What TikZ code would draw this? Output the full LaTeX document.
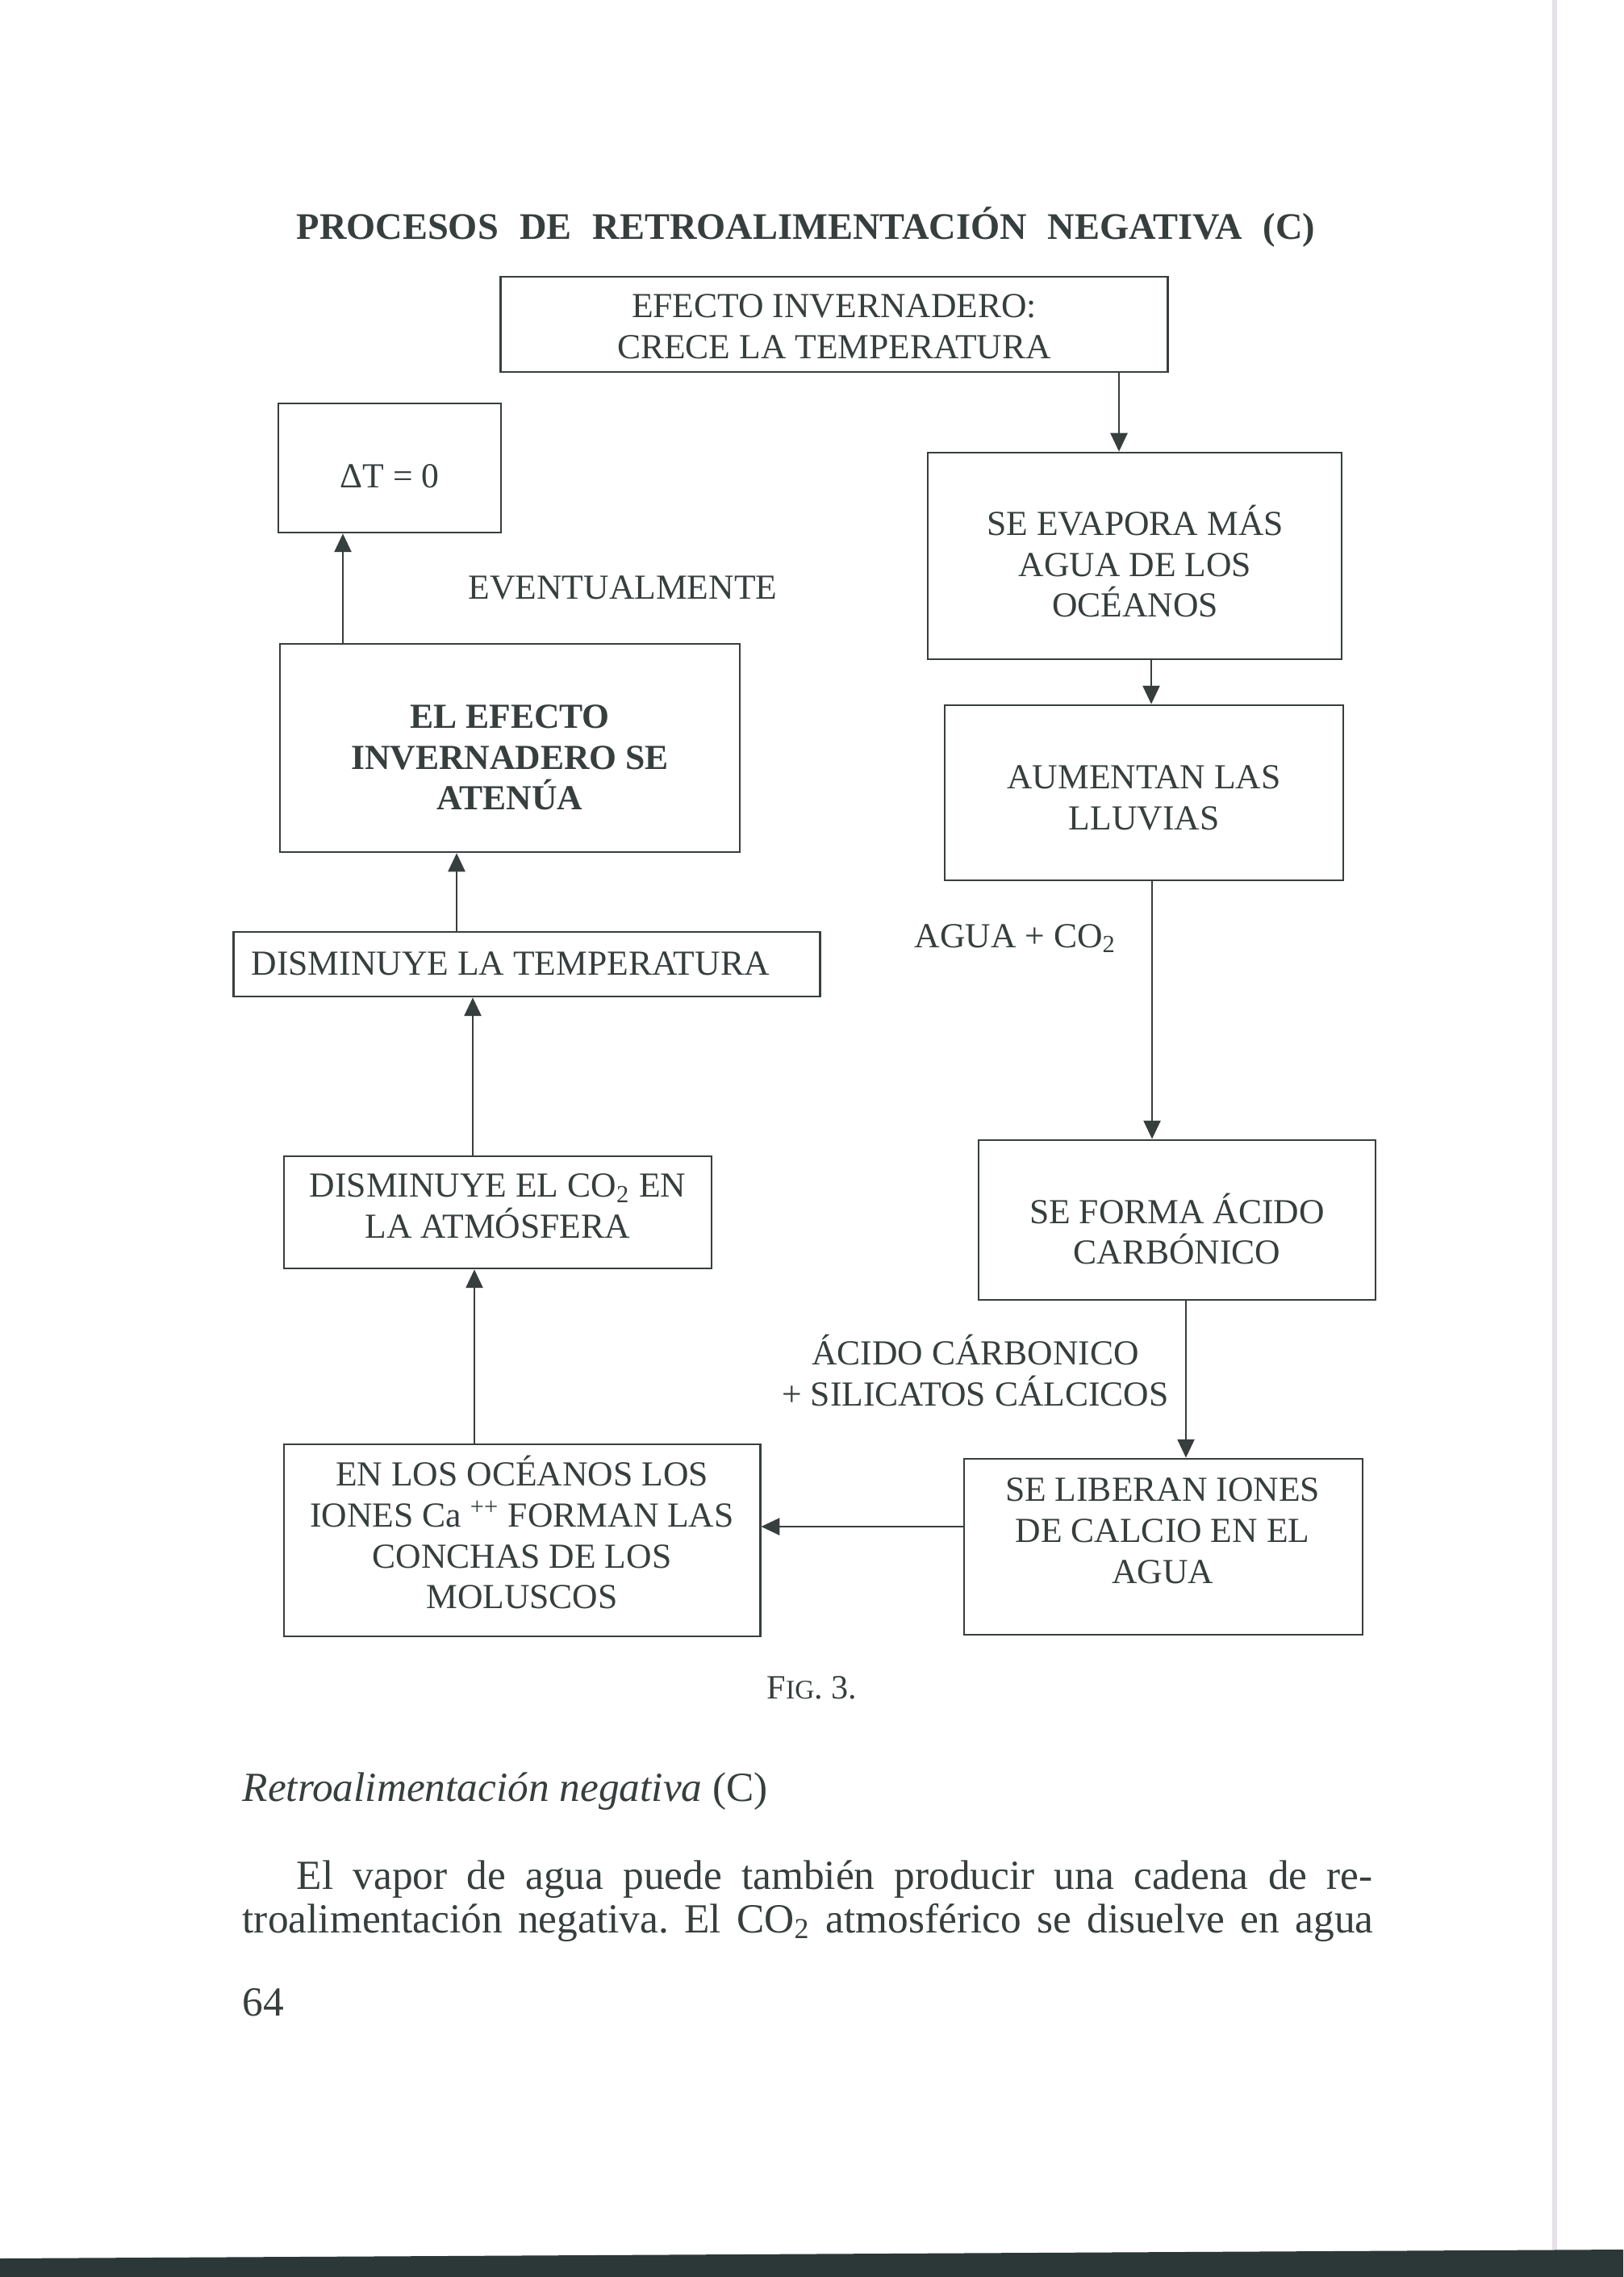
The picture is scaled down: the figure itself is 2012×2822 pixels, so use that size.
\documentclass[tikz,border=0pt]{standalone}
\usepackage{fontspec}
\setmainfont{Liberation Serif}
\usetikzlibrary{arrows.meta}
\definecolor{ink}{RGB}{55,62,62}
\definecolor{band}{RGB}{44,56,56}
\definecolor{pageedge}{RGB}{232,224,230}
\newcommand\fl{\rule{0pt}{12pt}}
\frenchspacing
\begin{document}
\begin{tikzpicture}[x=0.01cm,y=-0.01cm,
  box/.style={draw=ink, line width=0.75pt, inner sep=0pt, rectangle},
  btxt/.style={anchor=north, inner sep=0pt, align=center, text=ink, font=\fontsize{12.4}{14.4}\selectfont},
  ltxt/.style={anchor=base west, inner sep=0pt, text=ink, font=\fontsize{12.4}{14.4}\selectfont},
  arr/.style={draw=ink, line width=0.65pt, -{Triangle[length=6.5pt,width=6pt]}},
  body/.style={anchor=base west, inner sep=0pt, text=ink, font=\fontsize{14.6}{16}\selectfont}]
\fill[white] (0,0) rectangle (2012,2822);
\useasboundingbox (0,0) rectangle (2012,2822);
% page edge and bottom band
\draw[pageedge, line width=1.7pt] (1927,0) -- (1927,2790);
\fill[band] (0,2799) -- (2012,2788) -- (2012,2822) -- (0,2822) -- cycle;

% title
\node[anchor=base west, inner sep=0pt, text=ink, font=\fontsize{13.2}{15}\selectfont\bfseries] (title) at (367,297)
  {\makebox[12.62cm][s]{PROCESOS DE RETROALIMENTACIÓN NEGATIVA (C)}};

% boxes
\node[box, minimum width=8.26cm, minimum height=1.18cm] (A) at (1034,402) {};
\node[box, minimum width=5.13cm, minimum height=2.56cm] (B) at (1406.5,689) {};
\node[box, minimum width=4.94cm, minimum height=2.17cm] (C) at (1418,982.5) {};
\node[box, minimum width=4.92cm, minimum height=1.98cm] (D) at (1459,1512) {};
\node[box, minimum width=4.94cm, minimum height=2.18cm] (E) at (1442,1917) {};
\node[box, minimum width=5.90cm, minimum height=2.38cm] (F) at (647,1909) {};
\node[box, minimum width=5.30cm, minimum height=1.39cm] (G) at (617,1502.5) {};
\node[box, minimum width=7.26cm, minimum height=0.80cm] (H) at (653,1195) {};
\node[box, minimum width=5.70cm, minimum height=2.58cm] (I) at (632,927) {};
\node[box, minimum width=2.76cm, minimum height=1.60cm] (J) at (483,580) {};

% box texts
\node[btxt] (At) at (1034,350.8) {\fl EFECTO INVERNADERO:\\CRECE LA TEMPERATURA};
\node[btxt] (Bt) at (1407,620.8) {\fl SE EVAPORA MÁS\\AGUA DE LOS\\OCÉANOS};
\node[btxt] (Ct) at (1418,934.8) {\fl AUMENTAN LAS\\LLUVIAS};
\node[btxt] (Dt) at (1459,1473.3) {\fl SE FORMA ÁCIDO\\CARBÓNICO};
\node[btxt] (Et) at (1441,1817.8) {\fl SE LIBERAN IONES\\DE CALCIO EN EL\\AGUA};
\node[btxt] (Ft) at (647,1798.8) {\fl EN LOS OCÉANOS LOS\\IONES Ca \textsuperscript{++} FORMAN LAS\\CONCHAS DE LOS\\MOLUSCOS};
\node[btxt] (Gt) at (617,1440.8) {\fl DISMINUYE EL CO\textsubscript{2} EN\\LA ATMÓSFERA};
\node[ltxt] (Ht) at (311,1208) {DISMINUYE LA TEMPERATURA};
\node[btxt, font=\fontsize{12.4}{14.4}\selectfont\bfseries] (It) at (632,859.8) {\fl EL EFECTO\\INVERNADERO SE\\ATENÚA};
\node[ltxt, anchor=base] (Jt) at (483,605) {ΔT = 0};

% labels
\node[ltxt] (ev) at (580,743) {EVENTUALMENTE};
\node[ltxt] (agua) at (1133,1174) {AGUA + CO\textsubscript{2}};
\node[btxt] (acido) at (1209,1648.8) {\fl ÁCIDO CÁRBONICO\\+ SILICATOS CÁLCICOS};

% connectors
\coordinate (xAB) at (1387,0);
\coordinate (xBC) at (1427,0);
\coordinate (xCD) at (1428,0);
\coordinate (xDE) at (1470,0);
\coordinate (yEF) at (0,1892);
\coordinate (xFG) at (588,0);
\coordinate (xGH) at (586,0);
\coordinate (xHI) at (566,0);
\coordinate (xIJ) at (425,0);
\draw[arr] (A.south -| xAB) -- (B.north -| xAB);
\draw[arr] (B.south -| xBC) -- (C.north -| xBC);
\draw[arr] (C.south -| xCD) -- (D.north -| xCD);
\draw[arr] (D.south -| xDE) -- (E.north -| xDE);
\draw[arr] (E.west |- yEF) -- (F.east |- yEF);
\draw[arr] (F.north -| xFG) -- (G.south -| xFG);
\draw[arr] (G.north -| xGH) -- (H.south -| xGH);
\draw[arr] (H.north -| xHI) -- (I.south -| xHI);
\draw[arr] (I.north -| xIJ) -- (J.south -| xIJ);

% caption and text below
\node[anchor=base west, inner sep=0pt, text=ink, font=\fontsize{12}{14}\selectfont] (fig) at (950,2105)
  {F{\fontsize{9.5}{11}\selectfont IG}. 3.};
\node[body] (hd) at (300,2232) {\textit{Retroalimentación negativa} (C)};
\node[body] (p1) at (367,2341) {\makebox[13.33cm][s]{El vapor de agua puede también producir una cadena de re-}};
\node[body] (p2) at (300,2395) {\makebox[14.01cm][s]{troalimentación negativa. El CO\textsubscript{2} atmosférico se disuelve en agua}};
\node[body] (pg) at (300,2498) {64};
\end{tikzpicture}
\end{document}
